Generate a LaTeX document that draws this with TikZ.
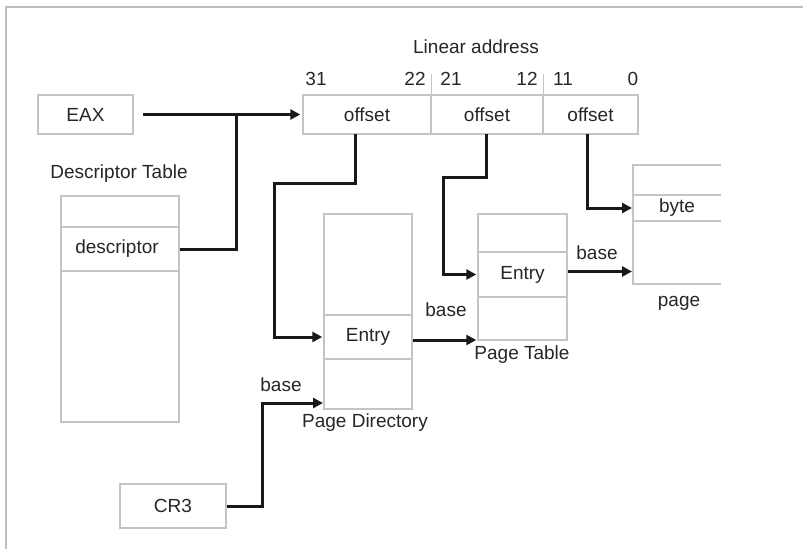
\documentclass[tikz,border=0pt]{standalone}
\usepackage{fontspec}
\setmainfont{Liberation Sans}
\usetikzlibrary{arrows.meta,calc}
\definecolor{txt}{HTML}{262626}
\definecolor{boxline}{HTML}{C4C4C4}
\definecolor{frameline}{HTML}{BEBEBE}
\tikzset{
  box/.style={draw=boxline, line width=1.4pt, inner sep=0pt, text=txt, font=\fontsize{19}{21}\selectfont},
  lbl/.style={inner sep=0pt, text=txt, font=\fontsize{19}{21}\selectfont},
  conn/.style={line width=3pt, draw=black!90},
  arr/.style={conn, -{Triangle[length=10pt,width=10pt]}},
}
\begin{document}
\begin{tikzpicture}[x=1pt,y=-1pt]
\useasboundingbox (0,0) rectangle (803,549);
% frame
\draw[frameline, line width=2.2pt] (6,549) -- (6,7) -- (803,7);

% boxes
\node[box, minimum width=95pt, minimum height=39pt] (eax) at (85.5,114.5) {EAX};
\node[box, minimum width=128pt, minimum height=39pt] (la1) at (367,114.5) {offset};
\node[box, minimum width=112pt, minimum height=39pt] (la2) at (487,114.5) {offset};
\node[box, minimum width=95pt, minimum height=39pt] (la3) at (590.5,114.5) {offset};
\draw[boxline, line width=1.2pt] (la1.north east) -- ++(0,-20);
\draw[boxline, line width=1.2pt] (la2.north east) -- ++(0,-20);

\node[lbl] (latitle) at (476,46.5) {Linear address};
\node[lbl] (n31) at (316,79) {31};
\node[lbl] (n22) at (415,79) {22};
\node[lbl] (n21) at (451,79) {21};
\node[lbl] (n12) at (527,79) {12};
\node[lbl] (n11) at (563,79) {11};
\node[lbl] (n0) at (633,79) {0};

% descriptor table
\node[lbl] (dttitle) at (119,174) {Descriptor Table};
\node[box, minimum width=118pt, minimum height=226pt] (dt) at (120,309) {};
\node[box, minimum width=118pt, minimum height=44pt] (desc) at (120,249) {\hspace*{-6pt}descriptor};

% page directory
\node[box, minimum width=88pt, minimum height=195pt] (pd) at (368,311.5) {};
\node[box, minimum width=88pt, minimum height=44pt] (pdentry) at (368,337) {Entry};
\node[lbl] (pdtitle) at (365,423) {Page Directory};

% page table
\node[box, minimum width=89pt, minimum height=126pt] (pt) at (522.5,277) {};
\node[box, minimum width=89pt, minimum height=45pt] (ptentry) at (522.5,274.5) {Entry};
\node[lbl] (pttitle) at (522,355) {Page Table};

% page (open at right)
\coordinate (pgtl) at (633,165);
\coordinate (pgbl) at (633,284);
\draw[boxline, line width=1.4pt] (721,165) -- (pgtl) -- (pgbl) -- (721,284);
\draw[boxline, line width=1.4pt] (633,195) -- (721,195);
\draw[boxline, line width=1.4pt] (633,221) -- (721,221);
\node[lbl] (byte) at (677,208) {byte};
\coordinate (bytew) at (633,208);
\node[lbl] (pagetitle) at (679,303) {page};

% CR3
\node[box, minimum width=106pt, minimum height=44pt] (cr3) at (173,506) {CR3};

% connectors
\coordinate (j) at (236,114.5);
\draw[arr, shorten >=2pt] ([xshift=9pt]eax.east) -- (la1.west);
\draw[conn] (desc.east) -| (j);

\coordinate (o1) at (355,134);
\coordinate (o1a) at (355,183);
\coordinate (o1b) at (274,183);
\draw[arr, shorten >=1pt] (o1) -- (o1a) -- (o1b) |- (pdentry.west);

\coordinate (o2) at (486,134);
\coordinate (o2a) at (486,177);
\coordinate (o2b) at (443,177);
\draw[arr, shorten >=1pt] (o2) -- (o2a) -- (o2b) |- (ptentry.west);

\coordinate (o3) at (587,134);
\draw[arr, shorten >=1pt] (o3) |- (bytew);

\coordinate (c3a) at (262,506);
\coordinate (pdlow) at (324,403);
\draw[arr, shorten >=1pt] (cr3.east) -- (c3a) |- (pdlow);
\node[lbl] (base1) at (281,385) {base};

\draw[arr, shorten >=1pt] ([yshift=-3pt]pdentry.east) -- ([yshift=-3pt]pdentry.east -| pt.west);
\node[lbl] (base2) at (446,310) {base};

\draw[arr, line width=3.5pt, shorten >=1pt] ([yshift=3pt]ptentry.east) -- ([yshift=3pt]ptentry.east -| pgtl);
\node[lbl] (base3) at (597,253) {base};
\end{tikzpicture}
\end{document}
